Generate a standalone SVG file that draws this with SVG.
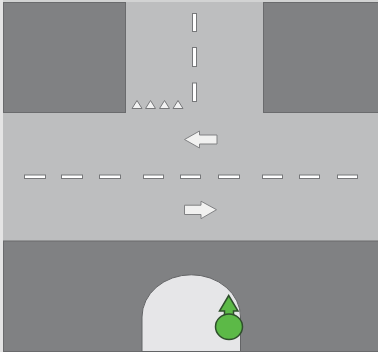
<svg xmlns="http://www.w3.org/2000/svg" width="378" height="357" viewBox="0 0 378 357">
<style>
.road{fill:#bdbebf}
.block{fill:#808183;stroke:#6a6b6d;stroke-width:1}
.dash{fill:#fff;stroke:#77787a;stroke-width:1}
.arrow{fill:#f1f1f0;stroke:#808183;stroke-width:1}
.tri{fill:#f2f2f2;stroke:#77787a;stroke-width:1}
.green{fill:#5cb947;stroke:#2f4f2c;stroke-width:1.500}
</style>
<rect width="378" height="357" fill="#fff"/>
<rect x="0" y="0" width="378" height="2" fill="#d2d3d3"/>
<rect x="0" y="0" width="3" height="352" fill="#e4e4e4"/>
<g id="road"><rect class="road" x="3" y="2" width="375" height="239"/></g>
<g id="blocks">
<rect class="block" x="3.500" y="2.500" width="122" height="110"/>
<rect class="block" x="263.500" y="2.500" width="116" height="110"/>
<rect class="block" x="3.500" y="241" width="376" height="110.500"/>
</g>
<g id="driveway"><path d="M142 351.500V317A49 42 0 0 1 240.500 317V351.500Z" fill="#e6e6e8" stroke="#636466"/></g>
<g id="markings">
<rect class="dash" x="192.500" y="13.500" width="4" height="18"/>
<rect class="dash" x="192.500" y="47.500" width="4" height="19"/>
<rect class="dash" x="192.500" y="83" width="4" height="18.500"/>
<rect class="dash" x="24.500" y="175" width="21" height="3.500"/>
<rect class="dash" x="61.500" y="175" width="21" height="3.500"/>
<rect class="dash" x="99.500" y="175" width="21" height="3.500"/>
<rect class="dash" x="143.500" y="175" width="20" height="3.500"/>
<rect class="dash" x="180.500" y="175" width="20" height="3.500"/>
<rect class="dash" x="218.500" y="175" width="21" height="3.500"/>
<rect class="dash" x="262.500" y="175" width="20" height="3.500"/>
<rect class="dash" x="299.500" y="175" width="20" height="3.500"/>
<rect class="dash" x="337.500" y="175" width="20" height="3.500"/>
<path class="tri" d="M132 108.500L137 100.500L142 108.500Z"/>
<path class="tri" d="M145.500 108.500L150.500 100.500L155.500 108.500Z"/>
<path class="tri" d="M159.500 108.500L164.500 100.500L169.500 108.500Z"/>
<path class="tri" d="M173 108.500L178 100.500L183 108.500Z"/>
<path class="arrow" d="M184.500 139.500L199.500 131V135H217V144H199.500V148Z"/>
<path class="arrow" d="M216.500 209.700L201 201.200V205.200H184.500V214.500H201V218.700Z"/>
</g>
<g id="car">
<path class="green" d="M228.700 295.500L219.500 311H224.500V320H233.500V311H238Z"/>
<ellipse class="green" cx="229" cy="326.700" rx="13.500" ry="12.700"/>
</g>
</svg>
